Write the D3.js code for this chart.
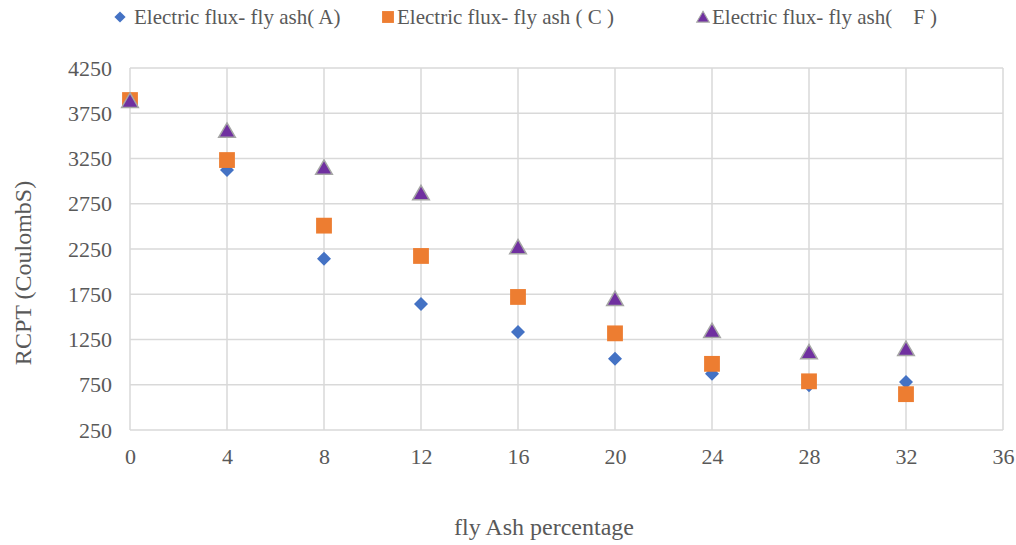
<!DOCTYPE html>
<html><head><meta charset="utf-8">
<script src="https://cdn.jsdelivr.net/npm/d3@7"></script>
<style>
body{margin:0;background:#fff;}
text{font-family:"Liberation Serif","Times New Roman",serif;fill:#595959;}
</style></head>
<body><svg id="c" width="1016" height="545"></svg>
<script>
const xValues = [0, 4, 8, 12, 16, 20, 24, 28, 32];
const seriesA = [3900, 3122, 2143, 1642, 1333, 1038, 872, 745, 780];
const seriesC = [3896, 3233, 2508, 2173, 1720, 1318, 981, 788, 646];
const seriesF = [3890, 3559, 3150, 2869, 2272, 1700, 1346, 1112, 1148];
const seriesNames = ["Electric flux- fly ash( A)", "Electric flux- fly ash ( C )", "Electric flux- fly ash(    F )"];
const xTicks = [0, 4, 8, 12, 16, 20, 24, 28, 32, 36];
const yTicks = [250, 750, 1250, 1750, 2250, 2750, 3250, 3750, 4250];
const xTitle = "fly Ash percentage";
const yTitle = "RCPT (CoulombS)";

const svg = d3.select("#c");
const x = d3.scaleLinear().domain([0, 36]).range([130, 1003]);
const y = d3.scaleLinear().domain([250, 4250]).range([430, 68]);

const grid = svg.append("g");
grid.selectAll(".gy").data(yTicks).enter().append("line")
  .attr("x1", x(0)).attr("x2", x(36)).attr("y1", d => y(d)).attr("y2", d => y(d))
  .attr("stroke", "#d9d9d9").attr("stroke-width", 1.5);
grid.selectAll(".gx").data(xTicks).enter().append("line")
  .attr("y1", y(250)).attr("y2", y(4250)).attr("x1", d => x(d)).attr("x2", d => x(d))
  .attr("stroke", "#d9d9d9").attr("stroke-width", 1.5);

const yAxis = svg.append("g").attr("transform", `translate(${x(0)},0)`)
  .call(d3.axisLeft(y).tickValues(yTicks).tickSize(0).tickPadding(18).tickFormat(d3.format("d")));
const xAxis = svg.append("g").attr("transform", `translate(0,${y(250)})`)
  .call(d3.axisBottom(x).tickValues(xTicks).tickSize(0).tickPadding(18).tickFormat(d3.format("d")));
[yAxis, xAxis].forEach(a => {
  a.select(".domain").remove();
  a.selectAll("text").attr("font-size", 22).attr("font-family", "Liberation Serif").attr("fill", "#595959");
});

const colors = ["#4472C4", "#ED7D31", "#7030A0"];
const symbols = [d3.symbolDiamond2, d3.symbolSquare, d3.symbolTriangle];
const sizes = [125, 250, 120];
const data = [seriesA, seriesC, seriesF];

function drawMarker(g, i, cx, cy, scale) {
  const s = d3.symbol().type(symbols[i]).size(sizes[i] * scale * scale);
  let ty = 0;
  if (i === 2) ty = 2 * scale;
  const p = g.append("path").attr("d", s())
    .attr("transform", `translate(${cx},${cy + ty})`)
    .attr("fill", colors[i]);
  if (i === 2) p.attr("stroke", "#a5a5a5").attr("stroke-width", 1.5 * scale);
  return p;
}

const marks = svg.append("g");
data.forEach((vals, i) => {
  const g = marks.append("g");
  vals.forEach((v, k) => drawMarker(g, i, x(xValues[k]), y(v), 1));
});

// Legend
const legendX = [120, 388, 703];
const legendTextX = [134, 397, 712];
const lg = svg.append("g");
seriesNames.forEach((n, i) => {
  drawMarker(lg, i, legendX[i], 17, i === 0 ? 0.8 : 0.75);
  lg.append("text").attr("x", legendTextX[i]).attr("y", 24)
    .attr("font-size", 21).style("white-space", "pre").attr("xml:space", "preserve").text(n);
});

svg.append("text").attr("x", 544).attr("y", 535).attr("text-anchor", "middle")
  .attr("font-size", 24).text(xTitle);
svg.append("text").attr("transform", "translate(31,273) rotate(-90)").attr("text-anchor", "middle")
  .attr("font-size", 24).text(yTitle);
</script></body></html>
